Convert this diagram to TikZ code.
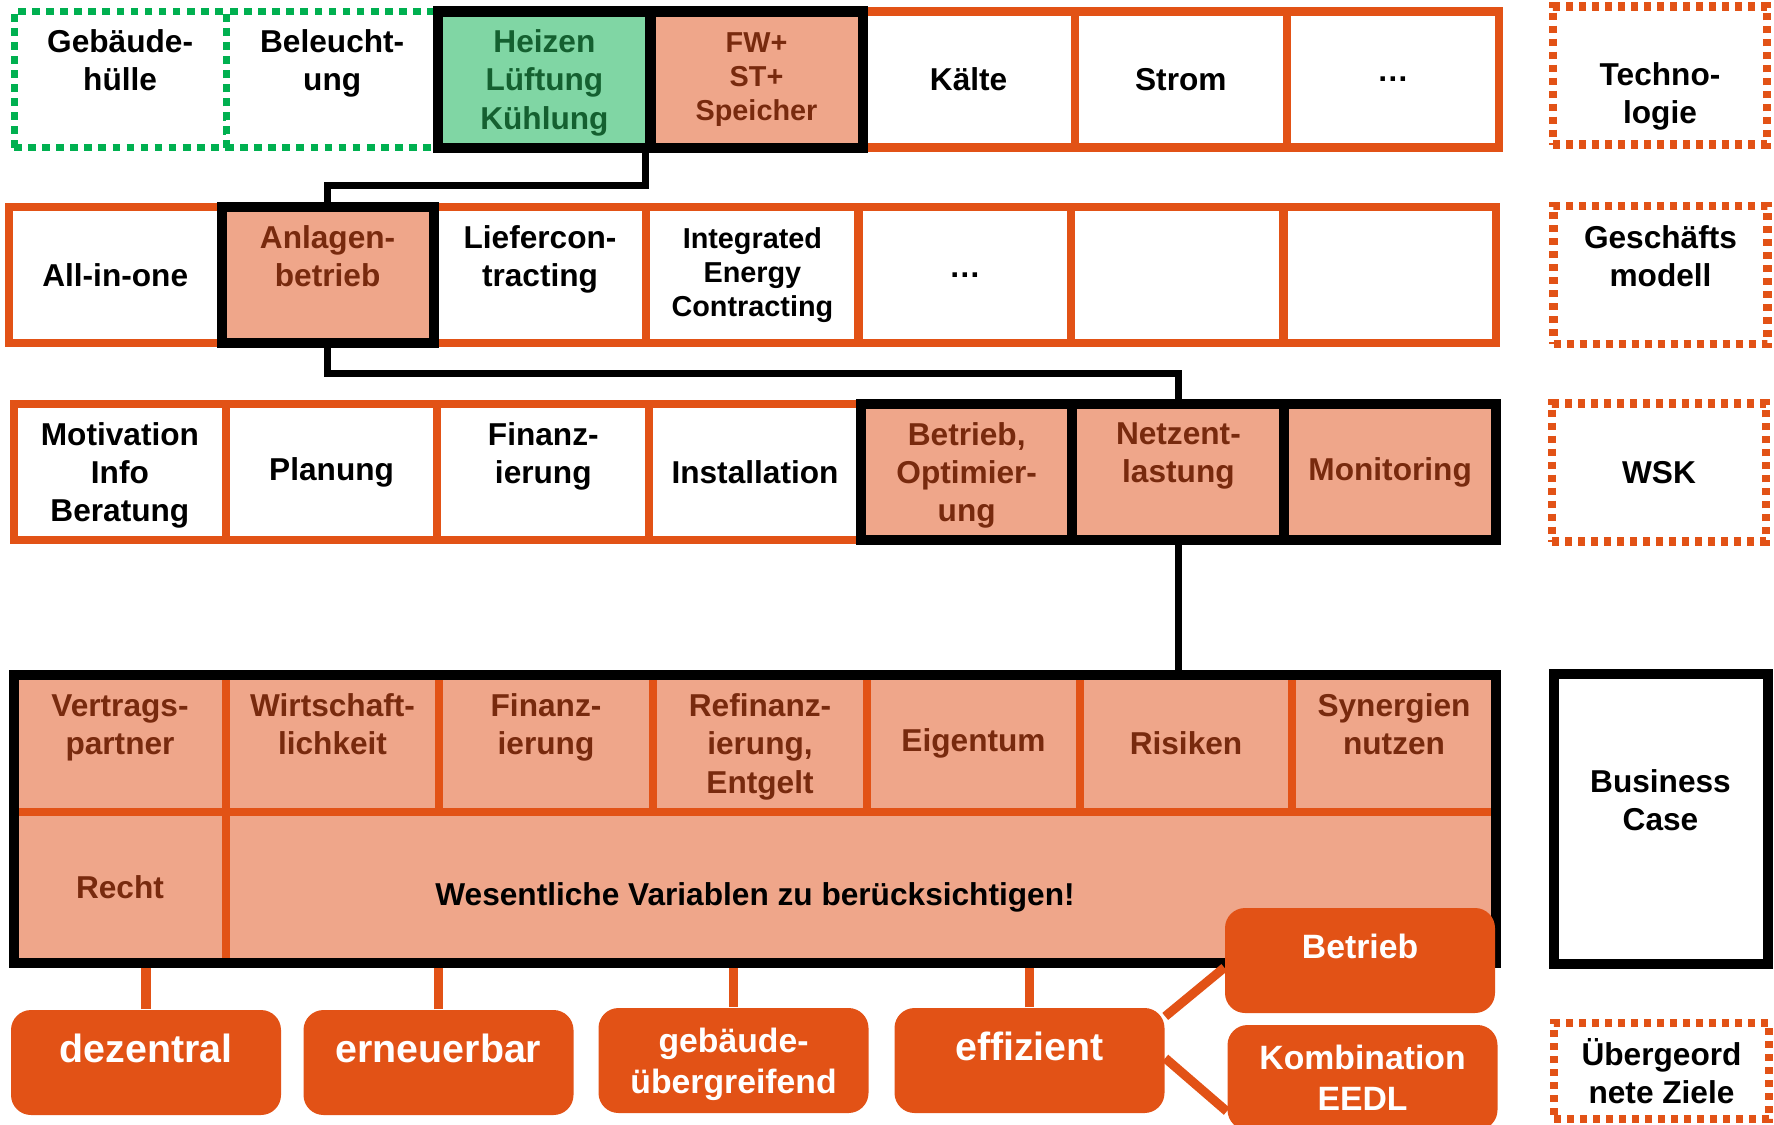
\documentclass[tikz,border=0pt]{standalone}
\usepackage{fontspec}
\setmainfont{Liberation Sans}
\usepackage{tikz}
\usetikzlibrary{positioning, calc}
\definecolor{wskorange}{RGB}{226,82,22}
\definecolor{wsksalmon}{RGB}{239,166,138}
\definecolor{wskbrown}{RGB}{120,42,14}
\definecolor{wskgreen}{RGB}{0,176,80}
\definecolor{lightgreen}{RGB}{128,214,164}
\definecolor{darkgreen}{RGB}{20,96,48}

\begin{document}
\begin{tikzpicture}[x=0.1mm, y=-0.1mm,
    cell/.style={draw=wskorange, line width=2.3pt, fill=white, minimum width=21.2mm,
        minimum height=13.6mm, inner sep=0pt, align=center,
        font=\fontsize{9}{10.9}\selectfont\bfseries},
    greencell/.style={cell, draw=wskgreen, line width=2pt, dash pattern=on 2.2pt off 1.8pt},
    focus/.style={cell, draw=black, line width=2.85pt, fill=wsksalmon, text=wskbrown},
    var/.style={cell, fill=wsksalmon, text=wskbrown, minimum height=13.7mm},
    small/.style={font=\fontsize{8.2}{9.7}\selectfont\bfseries},
    threelines/.style={text depth=0pt},
    layer/.style={draw=wskorange, line width=2.3pt, dash pattern=on 2pt off 1.7pt,
        minimum width=21.4mm, minimum height=13.8mm, inner sep=0pt, align=center,
        font=\fontsize{9}{10.9}\selectfont\bfseries},
    goal/.style={fill=wskorange, rounded corners=2mm, minimum width=27mm,
        minimum height=10.5mm, inner sep=0pt, align=center, text=white,
        font=\fontsize{9.6}{11.6}\selectfont\bfseries},
    goalbig/.style={goal, text depth=0.8em, font=\fontsize{11.2}{13.5}\selectfont\bfseries},
    link/.style={draw=black, line width=2pt},
    olink/.style={draw=wskorange, line width=2.6pt}]
\useasboundingbox (0,0) rectangle (1774,1124);

% Technologie
\node[greencell] (gebhuelle) at (120.1,79.5) {Gebäude-\\hülle\\\mbox{}};
\node[greencell] (beleuchtung) at (332.2,79.5) {Beleucht-\\ung\\\mbox{}};
\node[cell] (kaelte) at (968.6,79.5) {Kälte};
\node[cell] (strom) at (1180.8,79.5) {Strom};
\node[cell] (techmore) at (1392.9,79.5) {…};
\node[focus, threelines, fill=lightgreen, text=darkgreen] (heizen) at (544.4,79.5) {Heizen\\Lüftung\\Kühlung};
\node[focus, small] (fw) at (756.5,79.5) {FW+\\ST+\\Speicher};

% Geschaeftsmodell
\node[cell] (allinone) at (115.2,275) {All-in-one};
\node[cell] (liefer) at (540,275) {Liefercon-\\tracting\\\mbox{}};
\node[cell, small] (iec) at (752.4,275) {Integrated\\Energy\\Contracting};
\node[cell] (modmore) at (964.8,275) {…};
\node[cell] (modempty1) at (1177.3,275) {};
\node[cell] (modempty2) at (1389.7,275) {};
\node[focus] (anlagen) at (327.6,275) {Anlagen-\\betrieb\\\mbox{}};

% WSK
\node[cell, threelines] (motivation) at (119.9,472) {Motivation\\Info\\Beratung};
\node[cell] (planung) at (331.6,472) {Planung};
\node[cell] (finanz) at (543.3,472) {Finanz-\\ierung\\\mbox{}};
\node[cell] (install) at (755,472) {Installation};
\node[focus, threelines] (optim) at (966.7,472) {Betrieb,\\Optimier-\\ung};
\node[focus] (netz) at (1178.4,472) {Netzent-\\lastung\\\mbox{}};
\node[focus] (monitor) at (1390.1,472) {Monitoring};

% Business case
\node[var] (vertrag) at (120,743.5) {Vertrags-\\partner\\\mbox{}};
\node[var, minimum width=21.3mm] (wirtschaft) at (332.5,743.5) {Wirtschaft-\\lichkeit\\\mbox{}};
\node[var, minimum width=21.4mm] (finanzb) at (546,743.5) {Finanz-\\ierung\\\mbox{}};
\node[var, threelines, minimum width=21.4mm] (refinanz) at (760,743.5) {Refinanz-\\ierung,\\Entgelt};
\node[var, minimum width=21.3mm] (eigentum) at (973.5,743.5) {Eigentum};
\node[var] (risiken) at (1186,743.5) {Risiken};
\node[var, minimum width=20.4mm] (synergien) at (1394,743.5) {Synergien\\nutzen\\\mbox{}};
\node[var, minimum height=15.1mm] (recht) at (120,887.5) {Recht};
\node[var, minimum width=127mm, minimum height=15.1mm] (varrest) at (861,887.5) {};
\node[font=\fontsize{9}{10.9}\selectfont\bfseries] (wesentlich) at (755,897) {Wesentliche Variablen zu berücksichtigen!};
\node[draw=black, line width=2.85pt, minimum width=148.2mm, minimum height=28.8mm] (bcframe) at (755,819) {};

% Ebenen rechts
\node[layer] (technologie) at (1660,75.5) {\strut\\Techno-\\logie};
\node[layer] (geschaeft) at (1660.5,275) {Geschäfts\\modell\\\mbox{}};
\node[layer] (wsk) at (1659,472.5) {WSK};
\node[layer, draw=black, solid, line width=2.85pt, minimum height=29mm] (businesscase) at (1660.5,819) {Business\\Case\\\mbox{}};
\node[layer, minimum width=21.5mm, minimum height=9.6mm] (ziele) at (1661.5,1071) {Übergeord\\nete Ziele};

% Ziele
\node[goalbig] (dezentral) at (146,1062.5) {dezentral};
\node[goalbig] (erneuerbar) at (438.5,1062.5) {erneuerbar};
\node[goal, text depth=0pt] (uebergreifend) at (733.5,1060.5) {gebäude-\\übergreifend};
\node[goalbig] (effizient) at (1029.5,1060.5) {effizient};
\node[goal, text depth=0.8em] (betrieb) at (1360,960.5) {Betrieb};
\node[goal] (kombination) at (1362.5,1077.5) {Kombination\\EEDL};

% Verbindungen
\draw[link] (fw.south west) -- ++(0,33) -| (anlagen.north);
\draw[link] (anlagen.south) -- ++(0,25) -| (netz.north);
\draw[link] (netz.south) -- (netz.south |- bcframe.north);
\foreach \g in {dezentral, erneuerbar, uebergreifend, effizient} {
    \draw[olink] (\g.north) -- (\g.north |- bcframe.south);
}
\draw[olink] (effizient.18) -- (betrieb.183);
\draw[olink] (effizient.1) -- (kombination.194);
\end{tikzpicture}
\end{document}
